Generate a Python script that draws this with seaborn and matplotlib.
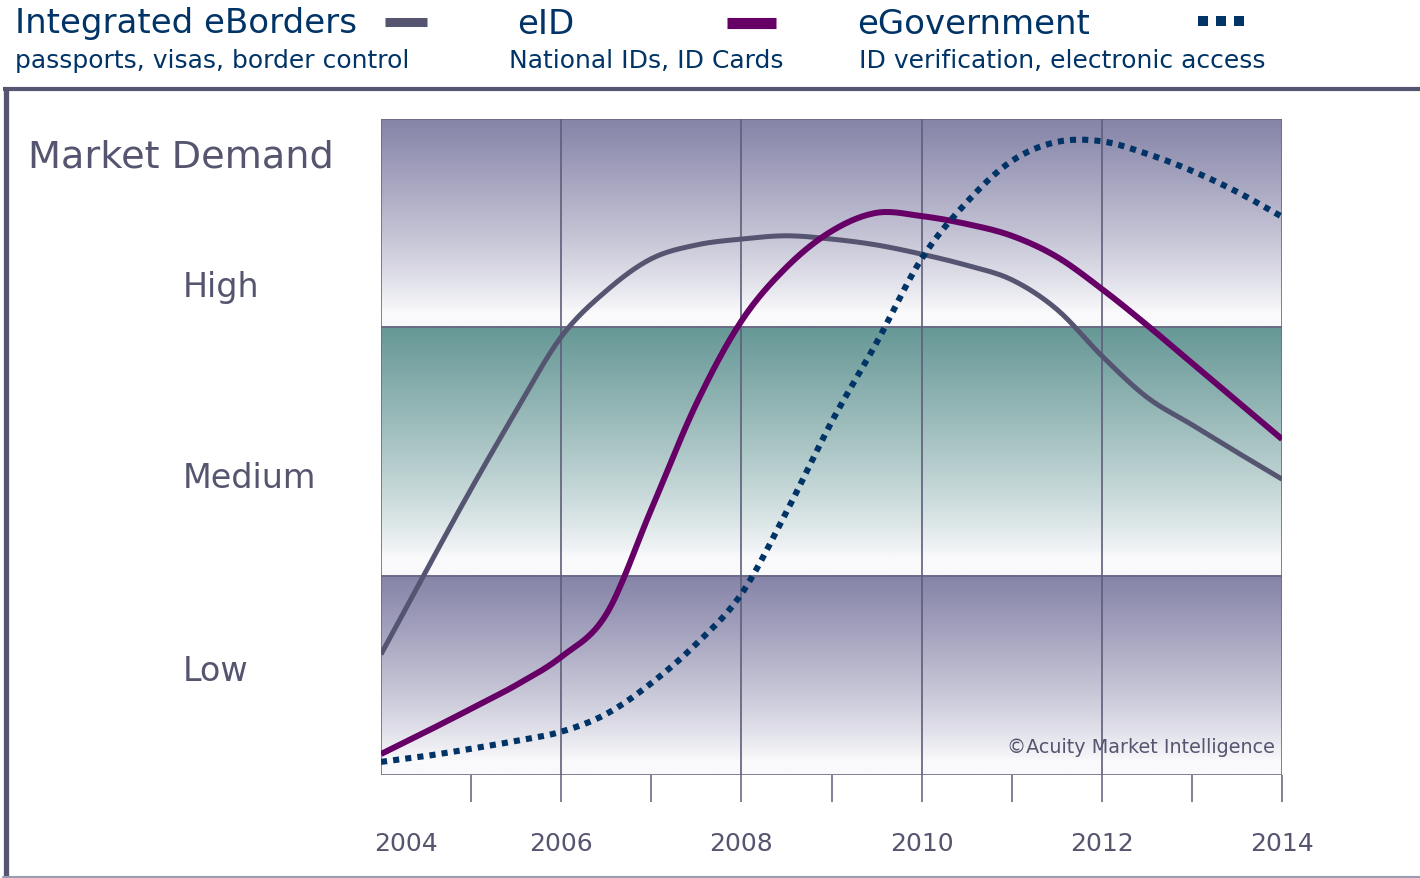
import numpy as np
import pandas as pd
import matplotlib
matplotlib.use("Agg")
import matplotlib.pyplot as plt
import seaborn as sns
from matplotlib.lines import Line2D
from matplotlib.patches import Rectangle
from matplotlib.colors import LinearSegmentedColormap
import matplotlib.transforms as mtransforms

# ---------------- data ----------------
years = [2004, 2004.5, 2005, 2005.5, 2006, 2006.5, 2007, 2007.5, 2008, 2008.5,
         2009, 2009.5, 2010, 2010.5, 2011, 2011.5, 2012, 2012.5, 2013, 2013.5, 2014]
eborders = [18.4, 31.1, 43.6, 55.5, 66.8, 73.8, 78.7, 80.8, 81.7, 82.2,
            81.7, 80.8, 79.4, 77.7, 75.5, 71.0, 63.9, 57.6, 53.4, 49.2, 45.1]
eid = [3.2, 6.6, 10.1, 13.7, 18.0, 24.5, 40.5, 56.6, 69.2, 77.4,
       82.9, 85.7, 85.2, 84.0, 82.2, 79.0, 74.1, 68.6, 62.8, 57.0, 51.2]
egov = [2.0, 2.9, 4.0, 5.2, 6.6, 9.3, 14.0, 20.0, 27.6, 40.1,
        53.8, 65.9, 78.7, 87.3, 93.6, 96.5, 96.6, 94.7, 92.1, 88.9, 85.1]

series_names = ["Integrated eBorders", "eID", "eGovernment"]
series_subtitles = ["passports, visas, border control",
                    "National IDs, ID Cards",
                    "ID verification, electronic access"]
level_labels = ["Low", "Medium", "High"]
level_label_values = [16.0, 45.3, 74.5]
band_edges = [0, 30.3, 68.3, 100]
tick_years = [2004, 2006, 2008, 2010, 2012, 2014]
minor_years = [2005, 2007, 2009, 2011, 2013]

# ---------------- styles ----------------
c_borders = "#555572"
c_eid = "#660066"
c_egov = "#003366"
c_text = "#555570"
c_grid = "#5e5e7a"
band_colors = ["#8684a8", "#669896", "#8684a8"]

sns.set_style("white")
plt.rcParams["font.family"] = ["DejaVu Sans"]

W, H = 1420, 879
fig = plt.figure(figsize=(W / 100, H / 100), dpi=100)
fig.patch.set_facecolor("white")


def fx(px):
    return px / W


def fy(py):
    return 1 - py / H


def smooth_path(x, y, n=16):
    """Catmull-Rom rendering of a polyline through the given points (display only)."""
    x = np.asarray(x, float)
    y = np.asarray(y, float)
    xp = np.concatenate([[2 * x[0] - x[1]], x, [2 * x[-1] - x[-2]]])
    yp = np.concatenate([[2 * y[0] - y[1]], y, [2 * y[-1] - y[-2]]])
    t = np.linspace(0, 1, n, endpoint=False)
    xs, ys = [], []
    for i in range(1, len(xp) - 2):
        for arr, out in ((xp, xs), (yp, ys)):
            p0, p1, p2, p3 = arr[i - 1:i + 3]
            out.append(0.5 * (2 * p1 + (-p0 + p2) * t
                              + (2 * p0 - 5 * p1 + 4 * p2 - p3) * t ** 2
                              + (-p0 + 3 * p1 - 3 * p2 + p3) * t ** 3))
    xs.append([x[-1]])
    ys.append([y[-1]])
    return np.concatenate(xs), np.concatenate(ys)


ax = fig.add_axes([fx(381), fy(776), fx(1282) - fx(381), fy(120) - fy(776)])
ax.set_xlim(2004, 2014)
ax.set_ylim(0, 100)
ax.set_facecolor("white")

# gradient bands (dark at top, fading to white towards the bottom)
u = np.linspace(0, 1, 256).reshape(-1, 1)
grad = np.clip((u - 0.07) / 0.93, 0, 1) ** 0.85
for lo, hi, col in zip(band_edges[:-1], band_edges[1:], band_colors):
    cmap = LinearSegmentedColormap.from_list("g", ["#fafafc", col])
    ax.imshow(grad, cmap=cmap, origin="lower", aspect="auto",
              extent=(2004, 2014, lo, hi), zorder=0, vmin=0, vmax=1)
    ax.add_patch(Rectangle((2004, lo), 10, hi - lo, fill=False,
                           ec="#6a6a86", lw=1.2, zorder=1))

for yr in tick_years[1:-1]:
    ax.axvline(yr, color=c_grid, lw=1.2, zorder=1.5)

# curves
styles = [
    (eborders, dict(color=c_borders, lw=3.6, zorder=3, solid_capstyle="butt")),
    (eid, dict(color=c_eid, lw=4.3, zorder=4, solid_capstyle="butt")),
    (egov, dict(color=c_egov, lw=4.4, zorder=5, linestyle=(0, (1, 1)),
                dash_capstyle="butt")),
]
for name, (vals, kw) in zip(series_names, styles):
    sx, sy = smooth_path(years, vals)
    d = pd.DataFrame({"year": sx, "demand": sy})
    sns.lineplot(data=d, x="year", y="demand", ax=ax, sort=False,
                 estimator=None, **kw)

ax.set_xlabel("")
ax.set_ylabel("")
ax.set_yticks([])
ax.set_xticks(tick_years)
ax.set_xticks(minor_years, minor=True)
ax.set_xticklabels([str(y) for y in tick_years])
ax.tick_params(axis="x", which="both", bottom=True, direction="out", length=19.5,
               width=1.1, color=c_grid, labelsize=18, labelcolor=c_text, pad=21)
for s in ax.spines.values():
    s.set_visible(False)
first_tick = ax.xaxis.get_major_ticks()[0]
first_tick.tick1line.set_visible(False)
lbl0 = ax.get_xticklabels()[0]
lbl0.set_horizontalalignment("left")
lbl0.set_transform(lbl0.get_transform()
                   + mtransforms.ScaledTranslation(-7 / 100, 0, fig.dpi_scale_trans))

# level labels
blend = mtransforms.blended_transform_factory(fig.transFigure, ax.transData)
for lab, v in zip(level_labels, level_label_values):
    ax.text(fx(183), v, lab, transform=blend, ha="left", va="center",
            fontsize=24, color=c_text, clip_on=False)

fig.text(fx(28), fy(157), "Market Demand", ha="left", va="center",
         fontsize=27.5, color=c_text)

ax.text(0.992, 0.044, "\u00a9Acuity Market Intelligence", transform=ax.transAxes,
        ha="right", va="center", fontsize=13.8, color=c_text, zorder=2)

# legend-like header
title_x = [15, 517, 857]
sub_x = [15, 509, 859]
for name, sub, tx, sx in zip(series_names, series_subtitles, title_x, sub_x):
    fig.text(fx(tx), fy(24), name, ha="left", va="center", fontsize=24.5, color=c_egov)
    fig.text(fx(sx), fy(61), sub, ha="left", va="center", fontsize=18, color=c_egov)

fig.add_artist(Line2D([fx(385), fx(427)], [fy(22.5), fy(22.5)], color=c_borders,
                      lw=6.5, solid_capstyle="butt"))
fig.add_artist(Line2D([fx(727), fx(776)], [fy(23.5), fy(23.5)], color=c_eid,
                      lw=8, solid_capstyle="butt"))
fig.add_artist(Line2D([fx(1198), fx(1250)], [fy(22), fy(22)], color=c_egov,
                      lw=7.2, linestyle=(0, (1, 0.8)), dash_capstyle="butt"))

# outer frame
fig.add_artist(Line2D([fx(3), 1.0], [fy(90), fy(90)], color=c_borders, lw=3,
                      solid_capstyle="butt"))
fig.add_artist(Line2D([fx(5.5), fx(5.5)], [fy(88), 0.0], color=c_borders, lw=3.8,
                      solid_capstyle="butt"))
fig.add_artist(Line2D([fx(3), 1.0], [fy(877.5), fy(877.5)], color="#9c9cb0", lw=1.5))

fig.savefig("out.png", dpi=100, facecolor="white")
